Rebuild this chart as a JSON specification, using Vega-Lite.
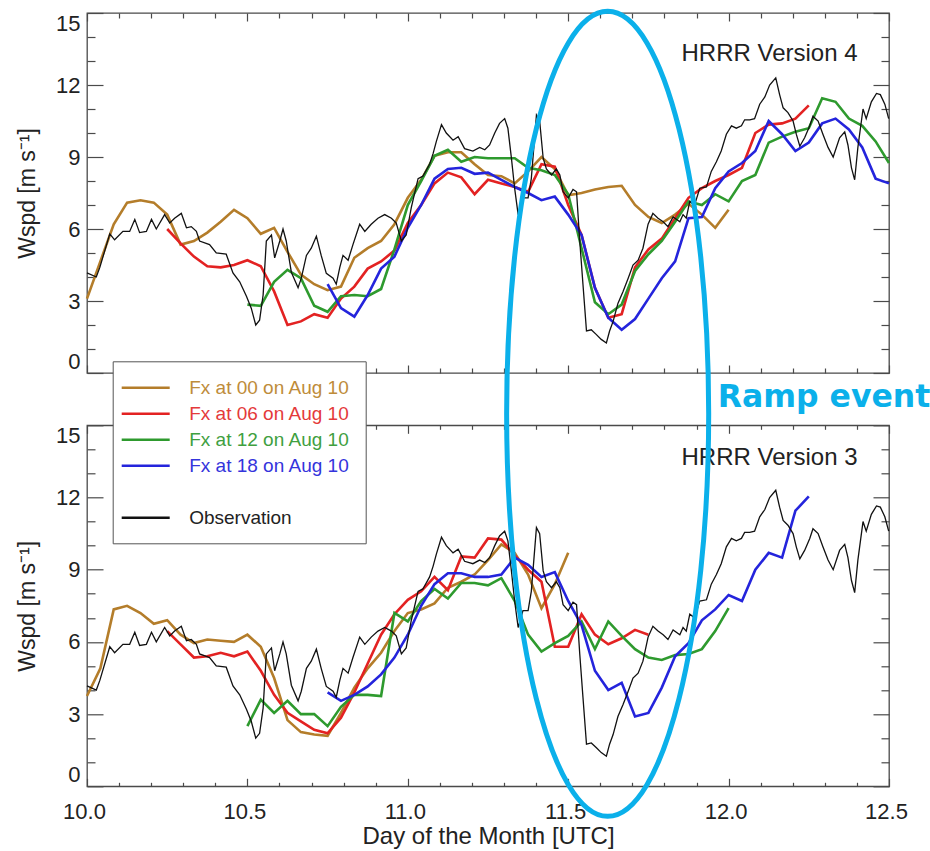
{
  "$schema": "https://vega.github.io/schema/vega-lite/v6.json",
  "background": "white",
  "padding": {"left": 15, "top": 0, "right": 0, "bottom": 0},
  "spacing": 52.3,
  "bounds": "flush",
  "config": {
    "font": "Liberation Sans",
    "view": {"stroke": "#4a4a4a", "strokeWidth": 1.3},
    "axis": {"grid": false, "domain": false, "labelFont": "Liberation Sans", "labelFontSize": 22, "labelColor": "#222222", "titleFont": "Liberation Sans", "titleFontSize": 23, "titleFontWeight": "normal", "titleColor": "#222222", "tickColor": "#4a4a4a", "tickWidth": 1.2, "labelOverlap": false, "labelBound": false}
  },
  "datasets": {
    "obs": [
      {"x":10.000,"y":4.17},{"x":10.029,"y":4.0},{"x":10.040,"y":4.4},{"x":10.071,"y":5.8},{"x":10.086,"y":5.55},{"x":10.112,"y":5.9},{"x":10.133,"y":5.9},{"x":10.149,"y":6.4},{"x":10.164,"y":5.85},{"x":10.185,"y":5.9},{"x":10.201,"y":6.4},{"x":10.216,"y":6.0},{"x":10.242,"y":6.6},{"x":10.258,"y":6.25},{"x":10.273,"y":6.45},{"x":10.294,"y":6.65},{"x":10.310,"y":6.05},{"x":10.325,"y":6.1},{"x":10.341,"y":5.9},{"x":10.351,"y":5.5},{"x":10.382,"y":5.35},{"x":10.403,"y":5.0},{"x":10.434,"y":4.95},{"x":10.455,"y":4.17},{"x":10.476,"y":3.8},{"x":10.497,"y":3.2},{"x":10.512,"y":2.7},{"x":10.526,"y":2.0},{"x":10.538,"y":2.2},{"x":10.549,"y":3.25},{"x":10.559,"y":5.5},{"x":10.575,"y":5.75},{"x":10.585,"y":4.8},{"x":10.601,"y":5.5},{"x":10.611,"y":6.0},{"x":10.621,"y":5.5},{"x":10.637,"y":4.2},{"x":10.658,"y":3.55},{"x":10.668,"y":3.95},{"x":10.684,"y":4.9},{"x":10.699,"y":5.2},{"x":10.715,"y":5.7},{"x":10.730,"y":4.9},{"x":10.746,"y":4.15},{"x":10.767,"y":3.95},{"x":10.777,"y":3.7},{"x":10.788,"y":4.4},{"x":10.798,"y":4.9},{"x":10.814,"y":4.7},{"x":10.829,"y":5.35},{"x":10.850,"y":6.2},{"x":10.866,"y":5.9},{"x":10.886,"y":6.2},{"x":10.907,"y":6.45},{"x":10.928,"y":6.6},{"x":10.949,"y":6.45},{"x":10.964,"y":6.25},{"x":10.980,"y":5.5},{"x":10.995,"y":5.75},{"x":11.011,"y":6.9},{"x":11.032,"y":8.1},{"x":11.047,"y":8.2},{"x":11.068,"y":8.7},{"x":11.079,"y":9.15},{"x":11.089,"y":9.65},{"x":11.105,"y":10.35},{"x":11.120,"y":10.0},{"x":11.141,"y":9.7},{"x":11.157,"y":9.85},{"x":11.177,"y":9.35},{"x":11.203,"y":9.25},{"x":11.224,"y":9.4},{"x":11.240,"y":9.3},{"x":11.255,"y":9.5},{"x":11.271,"y":10.0},{"x":11.286,"y":10.4},{"x":11.302,"y":10.6},{"x":11.312,"y":10.2},{"x":11.323,"y":8.95},{"x":11.333,"y":7.7},{"x":11.344,"y":6.6},{"x":11.359,"y":7.3},{"x":11.375,"y":7.3},{"x":11.385,"y":8.1},{"x":11.401,"y":10.75},{"x":11.411,"y":10.5},{"x":11.422,"y":8.95},{"x":11.432,"y":8.5},{"x":11.448,"y":8.25},{"x":11.463,"y":8.5},{"x":11.474,"y":8.25},{"x":11.484,"y":7.55},{"x":11.500,"y":7.3},{"x":11.515,"y":7.65},{"x":11.526,"y":7.55},{"x":11.536,"y":5.5},{"x":11.546,"y":3.7},{"x":11.557,"y":1.75},{"x":11.572,"y":1.8},{"x":11.588,"y":1.6},{"x":11.603,"y":1.4},{"x":11.619,"y":1.25},{"x":11.629,"y":1.75},{"x":11.640,"y":2.15},{"x":11.655,"y":2.9},{"x":11.671,"y":3.4},{"x":11.687,"y":3.95},{"x":11.702,"y":4.5},{"x":11.718,"y":4.7},{"x":11.733,"y":5.2},{"x":11.749,"y":6.2},{"x":11.764,"y":6.65},{"x":11.780,"y":6.45},{"x":11.796,"y":6.3},{"x":11.811,"y":6.1},{"x":11.827,"y":6.5},{"x":11.848,"y":6.3},{"x":11.858,"y":6.6},{"x":11.868,"y":6.45},{"x":11.879,"y":7.15},{"x":11.894,"y":7.0},{"x":11.910,"y":7.7},{"x":11.931,"y":7.75},{"x":11.946,"y":8.4},{"x":11.962,"y":8.8},{"x":11.977,"y":9.25},{"x":11.993,"y":9.95},{"x":12.009,"y":10.3},{"x":12.024,"y":10.2},{"x":12.040,"y":10.3},{"x":12.050,"y":10.55},{"x":12.066,"y":10.55},{"x":12.081,"y":10.6},{"x":12.097,"y":11.2},{"x":12.113,"y":11.5},{"x":12.128,"y":12.0},{"x":12.147,"y":12.3},{"x":12.159,"y":11.6},{"x":12.170,"y":11.05},{"x":12.185,"y":10.85},{"x":12.201,"y":10.5},{"x":12.211,"y":9.95},{"x":12.222,"y":9.45},{"x":12.237,"y":9.8},{"x":12.253,"y":10.3},{"x":12.263,"y":10.7},{"x":12.279,"y":10.5},{"x":12.294,"y":9.95},{"x":12.310,"y":9.4},{"x":12.326,"y":9.0},{"x":12.346,"y":9.8},{"x":12.362,"y":10.05},{"x":12.372,"y":9.5},{"x":12.383,"y":8.55},{"x":12.393,"y":8.05},{"x":12.403,"y":9.4},{"x":12.419,"y":11.0},{"x":12.429,"y":10.6},{"x":12.445,"y":11.3},{"x":12.461,"y":11.65},{"x":12.473,"y":11.6},{"x":12.487,"y":11.2},{"x":12.499,"y":10.6}
    ],
    "v4": [
      {"s":"Fx at 00 on Aug 10","x":10,"y":3.1},{"s":"Fx at 00 on Aug 10","x":10.0417,"y":4.65},{"s":"Fx at 00 on Aug 10","x":10.0833,"y":6.2},{"s":"Fx at 00 on Aug 10","x":10.125,"y":7.1},{"s":"Fx at 00 on Aug 10","x":10.1667,"y":7.2},{"s":"Fx at 00 on Aug 10","x":10.2083,"y":7.1},{"s":"Fx at 00 on Aug 10","x":10.25,"y":6.6},{"s":"Fx at 00 on Aug 10","x":10.2917,"y":5.35},{"s":"Fx at 00 on Aug 10","x":10.3333,"y":5.5},{"s":"Fx at 00 on Aug 10","x":10.375,"y":5.85},{"s":"Fx at 00 on Aug 10","x":10.4167,"y":6.3},{"s":"Fx at 00 on Aug 10","x":10.4583,"y":6.8},{"s":"Fx at 00 on Aug 10","x":10.5,"y":6.45},{"s":"Fx at 00 on Aug 10","x":10.5417,"y":5.8},{"s":"Fx at 00 on Aug 10","x":10.5833,"y":6.05},{"s":"Fx at 00 on Aug 10","x":10.625,"y":5.05},{"s":"Fx at 00 on Aug 10","x":10.6667,"y":4.1},{"s":"Fx at 00 on Aug 10","x":10.7083,"y":3.7},{"s":"Fx at 00 on Aug 10","x":10.75,"y":3.45},{"s":"Fx at 00 on Aug 10","x":10.7917,"y":3.6},{"s":"Fx at 00 on Aug 10","x":10.8333,"y":4.8},{"s":"Fx at 00 on Aug 10","x":10.875,"y":5.2},{"s":"Fx at 00 on Aug 10","x":10.9167,"y":5.5},{"s":"Fx at 00 on Aug 10","x":10.9583,"y":6.2},{"s":"Fx at 00 on Aug 10","x":11,"y":7.3},{"s":"Fx at 00 on Aug 10","x":11.0417,"y":8.05},{"s":"Fx at 00 on Aug 10","x":11.0833,"y":9.05},{"s":"Fx at 00 on Aug 10","x":11.125,"y":9.2},{"s":"Fx at 00 on Aug 10","x":11.1667,"y":9.2},{"s":"Fx at 00 on Aug 10","x":11.2083,"y":8.7},{"s":"Fx at 00 on Aug 10","x":11.25,"y":8.25},{"s":"Fx at 00 on Aug 10","x":11.2917,"y":8.2},{"s":"Fx at 00 on Aug 10","x":11.3333,"y":7.9},{"s":"Fx at 00 on Aug 10","x":11.375,"y":8.4},{"s":"Fx at 00 on Aug 10","x":11.4167,"y":9.0},{"s":"Fx at 00 on Aug 10","x":11.4583,"y":8.5},{"s":"Fx at 00 on Aug 10","x":11.5,"y":7.4},{"s":"Fx at 00 on Aug 10","x":11.5417,"y":7.5},{"s":"Fx at 00 on Aug 10","x":11.5833,"y":7.65},{"s":"Fx at 00 on Aug 10","x":11.625,"y":7.75},{"s":"Fx at 00 on Aug 10","x":11.6667,"y":7.8},{"s":"Fx at 00 on Aug 10","x":11.7083,"y":7.0},{"s":"Fx at 00 on Aug 10","x":11.75,"y":6.5},{"s":"Fx at 00 on Aug 10","x":11.7917,"y":6.25},{"s":"Fx at 00 on Aug 10","x":11.8333,"y":6.6},{"s":"Fx at 00 on Aug 10","x":11.875,"y":7.05},{"s":"Fx at 00 on Aug 10","x":11.9167,"y":6.6},{"s":"Fx at 00 on Aug 10","x":11.9583,"y":6.05},{"s":"Fx at 00 on Aug 10","x":12,"y":6.8},
      {"s":"Fx at 06 on Aug 10","x":10.25,"y":6.0},{"s":"Fx at 06 on Aug 10","x":10.2917,"y":5.4},{"s":"Fx at 06 on Aug 10","x":10.3333,"y":4.85},{"s":"Fx at 06 on Aug 10","x":10.375,"y":4.45},{"s":"Fx at 06 on Aug 10","x":10.4167,"y":4.4},{"s":"Fx at 06 on Aug 10","x":10.4583,"y":4.5},{"s":"Fx at 06 on Aug 10","x":10.5,"y":4.7},{"s":"Fx at 06 on Aug 10","x":10.5417,"y":4.45},{"s":"Fx at 06 on Aug 10","x":10.5833,"y":3.4},{"s":"Fx at 06 on Aug 10","x":10.625,"y":2.0},{"s":"Fx at 06 on Aug 10","x":10.6667,"y":2.15},{"s":"Fx at 06 on Aug 10","x":10.7083,"y":2.45},{"s":"Fx at 06 on Aug 10","x":10.75,"y":2.3},{"s":"Fx at 06 on Aug 10","x":10.7917,"y":3.1},{"s":"Fx at 06 on Aug 10","x":10.8333,"y":3.6},{"s":"Fx at 06 on Aug 10","x":10.875,"y":4.35},{"s":"Fx at 06 on Aug 10","x":10.9167,"y":4.65},{"s":"Fx at 06 on Aug 10","x":10.9583,"y":5.1},{"s":"Fx at 06 on Aug 10","x":11,"y":6.25},{"s":"Fx at 06 on Aug 10","x":11.0417,"y":7.0},{"s":"Fx at 06 on Aug 10","x":11.0833,"y":7.9},{"s":"Fx at 06 on Aug 10","x":11.125,"y":8.35},{"s":"Fx at 06 on Aug 10","x":11.1667,"y":8.15},{"s":"Fx at 06 on Aug 10","x":11.2083,"y":7.45},{"s":"Fx at 06 on Aug 10","x":11.25,"y":8.05},{"s":"Fx at 06 on Aug 10","x":11.2917,"y":7.9},{"s":"Fx at 06 on Aug 10","x":11.3333,"y":7.75},{"s":"Fx at 06 on Aug 10","x":11.375,"y":7.55},{"s":"Fx at 06 on Aug 10","x":11.4167,"y":8.7},{"s":"Fx at 06 on Aug 10","x":11.4583,"y":8.6},{"s":"Fx at 06 on Aug 10","x":11.5,"y":7.0},{"s":"Fx at 06 on Aug 10","x":11.5417,"y":5.75},{"s":"Fx at 06 on Aug 10","x":11.5833,"y":3.55},{"s":"Fx at 06 on Aug 10","x":11.625,"y":2.3},{"s":"Fx at 06 on Aug 10","x":11.6667,"y":2.45},{"s":"Fx at 06 on Aug 10","x":11.7083,"y":4.4},{"s":"Fx at 06 on Aug 10","x":11.75,"y":5.15},{"s":"Fx at 06 on Aug 10","x":11.7917,"y":5.6},{"s":"Fx at 06 on Aug 10","x":11.8333,"y":6.45},{"s":"Fx at 06 on Aug 10","x":11.875,"y":7.3},{"s":"Fx at 06 on Aug 10","x":11.9167,"y":7.7},{"s":"Fx at 06 on Aug 10","x":11.9583,"y":8.0},{"s":"Fx at 06 on Aug 10","x":12,"y":8.25},{"s":"Fx at 06 on Aug 10","x":12.0417,"y":8.55},{"s":"Fx at 06 on Aug 10","x":12.0833,"y":10.0},{"s":"Fx at 06 on Aug 10","x":12.125,"y":10.35},{"s":"Fx at 06 on Aug 10","x":12.1667,"y":10.4},{"s":"Fx at 06 on Aug 10","x":12.2083,"y":10.6},{"s":"Fx at 06 on Aug 10","x":12.25,"y":11.15},
      {"s":"Fx at 12 on Aug 10","x":10.5,"y":2.85},{"s":"Fx at 12 on Aug 10","x":10.5417,"y":2.8},{"s":"Fx at 12 on Aug 10","x":10.5833,"y":3.8},{"s":"Fx at 12 on Aug 10","x":10.625,"y":4.3},{"s":"Fx at 12 on Aug 10","x":10.6667,"y":3.95},{"s":"Fx at 12 on Aug 10","x":10.7083,"y":2.8},{"s":"Fx at 12 on Aug 10","x":10.75,"y":2.55},{"s":"Fx at 12 on Aug 10","x":10.7917,"y":3.2},{"s":"Fx at 12 on Aug 10","x":10.8333,"y":3.25},{"s":"Fx at 12 on Aug 10","x":10.875,"y":3.2},{"s":"Fx at 12 on Aug 10","x":10.9167,"y":3.5},{"s":"Fx at 12 on Aug 10","x":10.9583,"y":5.15},{"s":"Fx at 12 on Aug 10","x":11,"y":7.0},{"s":"Fx at 12 on Aug 10","x":11.0417,"y":8.0},{"s":"Fx at 12 on Aug 10","x":11.0833,"y":9.05},{"s":"Fx at 12 on Aug 10","x":11.125,"y":9.3},{"s":"Fx at 12 on Aug 10","x":11.1667,"y":8.8},{"s":"Fx at 12 on Aug 10","x":11.2083,"y":9.0},{"s":"Fx at 12 on Aug 10","x":11.25,"y":8.95},{"s":"Fx at 12 on Aug 10","x":11.2917,"y":8.95},{"s":"Fx at 12 on Aug 10","x":11.3333,"y":8.95},{"s":"Fx at 12 on Aug 10","x":11.375,"y":8.55},{"s":"Fx at 12 on Aug 10","x":11.4167,"y":8.45},{"s":"Fx at 12 on Aug 10","x":11.4583,"y":8.25},{"s":"Fx at 12 on Aug 10","x":11.5,"y":7.45},{"s":"Fx at 12 on Aug 10","x":11.5417,"y":5.2},{"s":"Fx at 12 on Aug 10","x":11.5833,"y":2.95},{"s":"Fx at 12 on Aug 10","x":11.625,"y":2.45},{"s":"Fx at 12 on Aug 10","x":11.6667,"y":2.85},{"s":"Fx at 12 on Aug 10","x":11.7083,"y":4.25},{"s":"Fx at 12 on Aug 10","x":11.75,"y":4.95},{"s":"Fx at 12 on Aug 10","x":11.7917,"y":5.5},{"s":"Fx at 12 on Aug 10","x":11.8333,"y":6.3},{"s":"Fx at 12 on Aug 10","x":11.875,"y":7.15},{"s":"Fx at 12 on Aug 10","x":11.9167,"y":7.0},{"s":"Fx at 12 on Aug 10","x":11.9583,"y":7.45},{"s":"Fx at 12 on Aug 10","x":12,"y":7.15},{"s":"Fx at 12 on Aug 10","x":12.0417,"y":8.0},{"s":"Fx at 12 on Aug 10","x":12.0833,"y":8.25},{"s":"Fx at 12 on Aug 10","x":12.125,"y":9.6},{"s":"Fx at 12 on Aug 10","x":12.1667,"y":9.85},{"s":"Fx at 12 on Aug 10","x":12.2083,"y":10.05},{"s":"Fx at 12 on Aug 10","x":12.25,"y":10.2},{"s":"Fx at 12 on Aug 10","x":12.2917,"y":11.45},{"s":"Fx at 12 on Aug 10","x":12.3333,"y":11.3},{"s":"Fx at 12 on Aug 10","x":12.375,"y":10.6},{"s":"Fx at 12 on Aug 10","x":12.4167,"y":10.3},{"s":"Fx at 12 on Aug 10","x":12.4583,"y":9.65},{"s":"Fx at 12 on Aug 10","x":12.5,"y":8.75},
      {"s":"Fx at 18 on Aug 10","x":10.75,"y":3.7},{"s":"Fx at 18 on Aug 10","x":10.7917,"y":2.7},{"s":"Fx at 18 on Aug 10","x":10.8333,"y":2.35},{"s":"Fx at 18 on Aug 10","x":10.875,"y":3.25},{"s":"Fx at 18 on Aug 10","x":10.9167,"y":4.35},{"s":"Fx at 18 on Aug 10","x":10.9583,"y":4.85},{"s":"Fx at 18 on Aug 10","x":11,"y":6.05},{"s":"Fx at 18 on Aug 10","x":11.0417,"y":7.0},{"s":"Fx at 18 on Aug 10","x":11.0833,"y":8.1},{"s":"Fx at 18 on Aug 10","x":11.125,"y":8.5},{"s":"Fx at 18 on Aug 10","x":11.1667,"y":8.55},{"s":"Fx at 18 on Aug 10","x":11.2083,"y":8.3},{"s":"Fx at 18 on Aug 10","x":11.25,"y":8.35},{"s":"Fx at 18 on Aug 10","x":11.2917,"y":8.05},{"s":"Fx at 18 on Aug 10","x":11.3333,"y":7.75},{"s":"Fx at 18 on Aug 10","x":11.375,"y":7.5},{"s":"Fx at 18 on Aug 10","x":11.4167,"y":7.2},{"s":"Fx at 18 on Aug 10","x":11.4583,"y":7.35},{"s":"Fx at 18 on Aug 10","x":11.5,"y":6.6},{"s":"Fx at 18 on Aug 10","x":11.5417,"y":5.75},{"s":"Fx at 18 on Aug 10","x":11.5833,"y":3.55},{"s":"Fx at 18 on Aug 10","x":11.625,"y":2.3},{"s":"Fx at 18 on Aug 10","x":11.6667,"y":1.8},{"s":"Fx at 18 on Aug 10","x":11.7083,"y":2.25},{"s":"Fx at 18 on Aug 10","x":11.75,"y":3.1},{"s":"Fx at 18 on Aug 10","x":11.7917,"y":3.95},{"s":"Fx at 18 on Aug 10","x":11.8333,"y":4.65},{"s":"Fx at 18 on Aug 10","x":11.875,"y":6.45},{"s":"Fx at 18 on Aug 10","x":11.9167,"y":6.5},{"s":"Fx at 18 on Aug 10","x":11.9583,"y":7.7},{"s":"Fx at 18 on Aug 10","x":12,"y":8.4},{"s":"Fx at 18 on Aug 10","x":12.0417,"y":8.75},{"s":"Fx at 18 on Aug 10","x":12.0833,"y":9.25},{"s":"Fx at 18 on Aug 10","x":12.125,"y":10.5},{"s":"Fx at 18 on Aug 10","x":12.1667,"y":9.95},{"s":"Fx at 18 on Aug 10","x":12.2083,"y":9.25},{"s":"Fx at 18 on Aug 10","x":12.25,"y":9.6},{"s":"Fx at 18 on Aug 10","x":12.2917,"y":10.4},{"s":"Fx at 18 on Aug 10","x":12.3333,"y":10.6},{"s":"Fx at 18 on Aug 10","x":12.375,"y":10.15},{"s":"Fx at 18 on Aug 10","x":12.4167,"y":9.4},{"s":"Fx at 18 on Aug 10","x":12.4583,"y":8.1},{"s":"Fx at 18 on Aug 10","x":12.5,"y":7.9}
    ],
    "v3": [
      {"s":"Fx at 00 on Aug 10","x":10,"y":3.75},{"s":"Fx at 00 on Aug 10","x":10.0417,"y":4.9},{"s":"Fx at 00 on Aug 10","x":10.0833,"y":7.35},{"s":"Fx at 00 on Aug 10","x":10.125,"y":7.5},{"s":"Fx at 00 on Aug 10","x":10.1667,"y":7.2},{"s":"Fx at 00 on Aug 10","x":10.2083,"y":6.75},{"s":"Fx at 00 on Aug 10","x":10.25,"y":6.9},{"s":"Fx at 00 on Aug 10","x":10.2917,"y":6.3},{"s":"Fx at 00 on Aug 10","x":10.3333,"y":5.95},{"s":"Fx at 00 on Aug 10","x":10.375,"y":6.1},{"s":"Fx at 00 on Aug 10","x":10.4167,"y":6.05},{"s":"Fx at 00 on Aug 10","x":10.4583,"y":6.0},{"s":"Fx at 00 on Aug 10","x":10.5,"y":6.3},{"s":"Fx at 00 on Aug 10","x":10.5417,"y":5.8},{"s":"Fx at 00 on Aug 10","x":10.5833,"y":4.5},{"s":"Fx at 00 on Aug 10","x":10.625,"y":2.75},{"s":"Fx at 00 on Aug 10","x":10.6667,"y":2.25},{"s":"Fx at 00 on Aug 10","x":10.7083,"y":2.15},{"s":"Fx at 00 on Aug 10","x":10.75,"y":2.1},{"s":"Fx at 00 on Aug 10","x":10.7917,"y":3.05},{"s":"Fx at 00 on Aug 10","x":10.8333,"y":4.1},{"s":"Fx at 00 on Aug 10","x":10.875,"y":4.9},{"s":"Fx at 00 on Aug 10","x":10.9167,"y":5.55},{"s":"Fx at 00 on Aug 10","x":10.9583,"y":6.45},{"s":"Fx at 00 on Aug 10","x":11,"y":7.2},{"s":"Fx at 00 on Aug 10","x":11.0417,"y":7.35},{"s":"Fx at 00 on Aug 10","x":11.0833,"y":7.6},{"s":"Fx at 00 on Aug 10","x":11.125,"y":8.25},{"s":"Fx at 00 on Aug 10","x":11.1667,"y":8.5},{"s":"Fx at 00 on Aug 10","x":11.2083,"y":8.8},{"s":"Fx at 00 on Aug 10","x":11.25,"y":9.4},{"s":"Fx at 00 on Aug 10","x":11.2917,"y":10.05},{"s":"Fx at 00 on Aug 10","x":11.3333,"y":9.7},{"s":"Fx at 00 on Aug 10","x":11.375,"y":8.8},{"s":"Fx at 00 on Aug 10","x":11.4167,"y":7.4},{"s":"Fx at 00 on Aug 10","x":11.4583,"y":8.4},{"s":"Fx at 00 on Aug 10","x":11.5,"y":9.7},
      {"s":"Fx at 06 on Aug 10","x":10.25,"y":6.45},{"s":"Fx at 06 on Aug 10","x":10.2917,"y":5.9},{"s":"Fx at 06 on Aug 10","x":10.3333,"y":5.35},{"s":"Fx at 06 on Aug 10","x":10.375,"y":5.4},{"s":"Fx at 06 on Aug 10","x":10.4167,"y":5.55},{"s":"Fx at 06 on Aug 10","x":10.4583,"y":5.4},{"s":"Fx at 06 on Aug 10","x":10.5,"y":5.6},{"s":"Fx at 06 on Aug 10","x":10.5417,"y":4.8},{"s":"Fx at 06 on Aug 10","x":10.5833,"y":3.8},{"s":"Fx at 06 on Aug 10","x":10.625,"y":3.05},{"s":"Fx at 06 on Aug 10","x":10.6667,"y":2.7},{"s":"Fx at 06 on Aug 10","x":10.7083,"y":2.35},{"s":"Fx at 06 on Aug 10","x":10.75,"y":2.2},{"s":"Fx at 06 on Aug 10","x":10.7917,"y":2.85},{"s":"Fx at 06 on Aug 10","x":10.8333,"y":3.9},{"s":"Fx at 06 on Aug 10","x":10.875,"y":5.1},{"s":"Fx at 06 on Aug 10","x":10.9167,"y":6.3},{"s":"Fx at 06 on Aug 10","x":10.9583,"y":7.15},{"s":"Fx at 06 on Aug 10","x":11,"y":7.75},{"s":"Fx at 06 on Aug 10","x":11.0417,"y":8.1},{"s":"Fx at 06 on Aug 10","x":11.0833,"y":8.7},{"s":"Fx at 06 on Aug 10","x":11.125,"y":8.15},{"s":"Fx at 06 on Aug 10","x":11.1667,"y":9.55},{"s":"Fx at 06 on Aug 10","x":11.2083,"y":9.5},{"s":"Fx at 06 on Aug 10","x":11.25,"y":10.3},{"s":"Fx at 06 on Aug 10","x":11.2917,"y":10.25},{"s":"Fx at 06 on Aug 10","x":11.3333,"y":9.6},{"s":"Fx at 06 on Aug 10","x":11.375,"y":9.0},{"s":"Fx at 06 on Aug 10","x":11.4167,"y":8.5},{"s":"Fx at 06 on Aug 10","x":11.4583,"y":5.8},{"s":"Fx at 06 on Aug 10","x":11.5,"y":5.8},{"s":"Fx at 06 on Aug 10","x":11.5417,"y":7.15},{"s":"Fx at 06 on Aug 10","x":11.5833,"y":6.3},{"s":"Fx at 06 on Aug 10","x":11.625,"y":5.9},{"s":"Fx at 06 on Aug 10","x":11.6667,"y":6.15},{"s":"Fx at 06 on Aug 10","x":11.7083,"y":6.5},{"s":"Fx at 06 on Aug 10","x":11.75,"y":6.3},
      {"s":"Fx at 12 on Aug 10","x":10.5,"y":2.5},{"s":"Fx at 12 on Aug 10","x":10.5417,"y":3.6},{"s":"Fx at 12 on Aug 10","x":10.5833,"y":3.05},{"s":"Fx at 12 on Aug 10","x":10.625,"y":3.55},{"s":"Fx at 12 on Aug 10","x":10.6667,"y":3.0},{"s":"Fx at 12 on Aug 10","x":10.7083,"y":3.0},{"s":"Fx at 12 on Aug 10","x":10.75,"y":2.5},{"s":"Fx at 12 on Aug 10","x":10.7917,"y":3.3},{"s":"Fx at 12 on Aug 10","x":10.8333,"y":3.8},{"s":"Fx at 12 on Aug 10","x":10.875,"y":3.8},{"s":"Fx at 12 on Aug 10","x":10.9167,"y":3.75},{"s":"Fx at 12 on Aug 10","x":10.9583,"y":7.2},{"s":"Fx at 12 on Aug 10","x":11,"y":6.85},{"s":"Fx at 12 on Aug 10","x":11.0417,"y":7.7},{"s":"Fx at 12 on Aug 10","x":11.0833,"y":8.2},{"s":"Fx at 12 on Aug 10","x":11.125,"y":7.8},{"s":"Fx at 12 on Aug 10","x":11.1667,"y":8.45},{"s":"Fx at 12 on Aug 10","x":11.2083,"y":8.45},{"s":"Fx at 12 on Aug 10","x":11.25,"y":8.35},{"s":"Fx at 12 on Aug 10","x":11.2917,"y":8.65},{"s":"Fx at 12 on Aug 10","x":11.3333,"y":7.7},{"s":"Fx at 12 on Aug 10","x":11.375,"y":6.3},{"s":"Fx at 12 on Aug 10","x":11.4167,"y":5.6},{"s":"Fx at 12 on Aug 10","x":11.4583,"y":5.95},{"s":"Fx at 12 on Aug 10","x":11.5,"y":6.25},{"s":"Fx at 12 on Aug 10","x":11.5417,"y":6.85},{"s":"Fx at 12 on Aug 10","x":11.5833,"y":5.7},{"s":"Fx at 12 on Aug 10","x":11.625,"y":6.85},{"s":"Fx at 12 on Aug 10","x":11.6667,"y":6.25},{"s":"Fx at 12 on Aug 10","x":11.7083,"y":5.7},{"s":"Fx at 12 on Aug 10","x":11.75,"y":5.35},{"s":"Fx at 12 on Aug 10","x":11.7917,"y":5.25},{"s":"Fx at 12 on Aug 10","x":11.8333,"y":5.45},{"s":"Fx at 12 on Aug 10","x":11.875,"y":5.5},{"s":"Fx at 12 on Aug 10","x":11.9167,"y":5.7},{"s":"Fx at 12 on Aug 10","x":11.9583,"y":6.45},{"s":"Fx at 12 on Aug 10","x":12,"y":7.4},
      {"s":"Fx at 18 on Aug 10","x":10.75,"y":3.9},{"s":"Fx at 18 on Aug 10","x":10.7917,"y":3.55},{"s":"Fx at 18 on Aug 10","x":10.8333,"y":3.8},{"s":"Fx at 18 on Aug 10","x":10.875,"y":4.15},{"s":"Fx at 18 on Aug 10","x":10.9167,"y":4.65},{"s":"Fx at 18 on Aug 10","x":10.9583,"y":5.35},{"s":"Fx at 18 on Aug 10","x":11,"y":6.3},{"s":"Fx at 18 on Aug 10","x":11.0417,"y":7.5},{"s":"Fx at 18 on Aug 10","x":11.0833,"y":8.4},{"s":"Fx at 18 on Aug 10","x":11.125,"y":8.85},{"s":"Fx at 18 on Aug 10","x":11.1667,"y":8.85},{"s":"Fx at 18 on Aug 10","x":11.2083,"y":8.7},{"s":"Fx at 18 on Aug 10","x":11.25,"y":8.7},{"s":"Fx at 18 on Aug 10","x":11.2917,"y":8.8},{"s":"Fx at 18 on Aug 10","x":11.3333,"y":9.5},{"s":"Fx at 18 on Aug 10","x":11.375,"y":9.2},{"s":"Fx at 18 on Aug 10","x":11.4167,"y":8.7},{"s":"Fx at 18 on Aug 10","x":11.4583,"y":8.9},{"s":"Fx at 18 on Aug 10","x":11.5,"y":7.7},{"s":"Fx at 18 on Aug 10","x":11.5417,"y":6.7},{"s":"Fx at 18 on Aug 10","x":11.5833,"y":4.8},{"s":"Fx at 18 on Aug 10","x":11.625,"y":4.0},{"s":"Fx at 18 on Aug 10","x":11.6667,"y":4.3},{"s":"Fx at 18 on Aug 10","x":11.7083,"y":2.9},{"s":"Fx at 18 on Aug 10","x":11.75,"y":3.05},{"s":"Fx at 18 on Aug 10","x":11.7917,"y":4.1},{"s":"Fx at 18 on Aug 10","x":11.8333,"y":5.4},{"s":"Fx at 18 on Aug 10","x":11.875,"y":5.95},{"s":"Fx at 18 on Aug 10","x":11.9167,"y":6.9},{"s":"Fx at 18 on Aug 10","x":11.9583,"y":7.35},{"s":"Fx at 18 on Aug 10","x":12,"y":7.95},{"s":"Fx at 18 on Aug 10","x":12.0417,"y":7.7},{"s":"Fx at 18 on Aug 10","x":12.0833,"y":9.0},{"s":"Fx at 18 on Aug 10","x":12.125,"y":9.7},{"s":"Fx at 18 on Aug 10","x":12.1667,"y":9.5},{"s":"Fx at 18 on Aug 10","x":12.2083,"y":11.45},{"s":"Fx at 18 on Aug 10","x":12.25,"y":12.05}
    ],
    "ramp": [{"x": 11.623, "y": 15.478, "tx": 11.966, "ty": 15.745, "label": "Ramp event"}],
    "lab4": [{"x": 12.402, "y": 13.0, "label": "HRRR Version 4"}],
    "lab3": [{"x": 12.402, "y": 13.36, "label": "HRRR Version 3"}]
  },
  "vconcat": [
    {
      "width": 802,
      "height": 360,
      "layer": [
        {
          "data": {"name": "v4"},
          "mark": {"type": "line", "strokeWidth": 2.6},
          "encoding": {
            "x": {"field": "x", "type": "quantitative", "scale": {"domain": [10, 12.5], "nice": false, "zero": false},
                  "axis": {"orient": "top", "values": [10,10.1,10.2,10.3,10.4,10.5,10.6,10.7,10.8,10.9,11,11.1,11.2,11.3,11.4,11.5,11.6,11.7,11.8,11.9,12,12.1,12.2,12.3,12.4,12.5], "labels": false, "title": null,
                           "tickSize": {"condition": {"test": "abs(datum.value*2-round(datum.value*2))<0.001", "value": -8}, "value": -5}}},
            "y": {"field": "y", "type": "quantitative", "scale": {"domain": [0, 15], "nice": false, "zero": false},
                  "axis": {"orient": "right", "values": [0,1,2,3,4,5,6,7,8,9,10,11,12,13,14,15], "labels": false, "title": null,
                           "tickSize": {"condition": {"test": "datum.value % 3 === 0", "value": -16}, "value": -8}}},
            "color": {"field": "s", "type": "nominal",
                      "scale": {"domain": ["Fx at 00 on Aug 10","Fx at 06 on Aug 10","Fx at 12 on Aug 10","Fx at 18 on Aug 10"," ","Observation"], "range": ["#B47D2A","#E32222","#2E9A2E","#2424DC","rgba(0,0,0,0)","#111111"]},
                      "legend": {"title": null, "orient": "none", "legendX": 25.7, "legendY": 348.3, "padding": 15, "symbolType": "M-2.4,0H2.4", "symbolSize": 400, "symbolStrokeWidth": 2.5, "symbolOffset": 6.5, "labelOffset": 32, "labelFontSize": 19, "labelFont": "Liberation Sans", "labelLimit": 300, "rowPadding": 4, "fillColor": "white", "strokeColor": "#555555",
                                 "encoding": {"labels": {"fill": {"condition": [{"test": "datum.label === 'Fx at 00 on Aug 10'", "value": "#BE8C3A"}, {"test": "datum.label === 'Fx at 06 on Aug 10'", "value": "#E43A3A"}, {"test": "datum.label === 'Fx at 12 on Aug 10'", "value": "#3FA03F"}, {"test": "datum.label === 'Fx at 18 on Aug 10'", "value": "#3434DC"}], "value": "#222222"}}}}}
          }
        },
        {
          "data": {"name": "obs"},
          "mark": {"type": "line", "strokeWidth": 1.3},
          "encoding": {
            "x": {"field": "x", "type": "quantitative", "scale": {"domain": [10, 12.5], "nice": false, "zero": false},
                  "axis": {"orient": "bottom", "values": [10,10.1,10.2,10.3,10.4,10.5,10.6,10.7,10.8,10.9,11,11.1,11.2,11.3,11.4,11.5,11.6,11.7,11.8,11.9,12,12.1,12.2,12.3,12.4,12.5], "labels": false, "title": null,
                           "tickSize": {"condition": {"test": "abs(datum.value*2-round(datum.value*2))<0.001", "value": -8}, "value": -5}}},
            "y": {"field": "y", "type": "quantitative", "scale": {"domain": [0, 15], "nice": false, "zero": false},
                  "axis": {"orient": "left", "values": [0,1,2,3,4,5,6,7,8,9,10,11,12,13,14,15], "labelExpr": "datum.value % 3 === 0 ? datum.label : ''", "labelFlush": true, "labelPadding": 23, "title": "Wspd [m s⁻¹]", "titlePadding": 16,
                           "tickSize": {"condition": {"test": "datum.value % 3 === 0", "value": -16}, "value": -8}}},
            "color": {"datum": "Observation", "type": "nominal",
                      "scale": {"domain": ["Fx at 00 on Aug 10","Fx at 06 on Aug 10","Fx at 12 on Aug 10","Fx at 18 on Aug 10"," ","Observation"], "range": ["#B47D2A","#E32222","#2E9A2E","#2424DC","rgba(0,0,0,0)","#111111"]},
                      "legend": {"title": null, "orient": "none", "legendX": 25.7, "legendY": 348.3, "padding": 15, "symbolType": "M-2.4,0H2.4", "symbolSize": 400, "symbolStrokeWidth": 2.5, "symbolOffset": 6.5, "labelOffset": 32, "labelFontSize": 19, "labelFont": "Liberation Sans", "labelLimit": 300, "rowPadding": 4, "fillColor": "white", "strokeColor": "#555555",
                                 "encoding": {"labels": {"fill": {"condition": [{"test": "datum.label === 'Fx at 00 on Aug 10'", "value": "#BE8C3A"}, {"test": "datum.label === 'Fx at 06 on Aug 10'", "value": "#E43A3A"}, {"test": "datum.label === 'Fx at 12 on Aug 10'", "value": "#3FA03F"}, {"test": "datum.label === 'Fx at 18 on Aug 10'", "value": "#3434DC"}], "value": "#222222"}}}}}
          }
        },
        {
          "data": {"name": "lab4"},
          "mark": {"type": "text", "align": "right", "baseline": "alphabetic", "font": "Liberation Sans", "fontSize": 24, "color": "#222222"},
          "encoding": {
            "x": {"field": "x", "type": "quantitative", "scale": {"domain": [10, 12.5], "nice": false, "zero": false}, "axis": null},
            "y": {"field": "y", "type": "quantitative", "scale": {"domain": [0, 15], "nice": false, "zero": false}, "axis": null},
            "text": {"field": "label"}
          }
        }
      ]
    },
    {
      "width": 802,
      "height": 361,
      "layer": [
        {
          "data": {"name": "v3"},
          "mark": {"type": "line", "strokeWidth": 2.6},
          "encoding": {
            "x": {"field": "x", "type": "quantitative", "scale": {"domain": [10, 12.5], "nice": false, "zero": false},
                  "axis": {"orient": "top", "values": [10,10.1,10.2,10.3,10.4,10.5,10.6,10.7,10.8,10.9,11,11.1,11.2,11.3,11.4,11.5,11.6,11.7,11.8,11.9,12,12.1,12.2,12.3,12.4,12.5], "labels": false, "title": null,
                           "tickSize": {"condition": {"test": "abs(datum.value*2-round(datum.value*2))<0.001", "value": -8}, "value": -4}}},
            "y": {"field": "y", "type": "quantitative", "scale": {"domain": [0, 15], "nice": false, "zero": false},
                  "axis": {"orient": "right", "values": [0,1,2,3,4,5,6,7,8,9,10,11,12,13,14,15], "labels": false, "title": null,
                           "tickSize": {"condition": {"test": "datum.value % 3 === 0", "value": -16}, "value": -8}}},
            "color": {"field": "s", "type": "nominal",
                      "scale": {"domain": ["Fx at 00 on Aug 10","Fx at 06 on Aug 10","Fx at 12 on Aug 10","Fx at 18 on Aug 10"," ","Observation"], "range": ["#B47D2A","#E32222","#2E9A2E","#2424DC","rgba(0,0,0,0)","#111111"]},
                      "legend": {"title": null, "orient": "none", "legendX": 25.7, "legendY": 348.3, "padding": 15, "symbolType": "M-2.4,0H2.4", "symbolSize": 400, "symbolStrokeWidth": 2.5, "symbolOffset": 6.5, "labelOffset": 32, "labelFontSize": 19, "labelFont": "Liberation Sans", "labelLimit": 300, "rowPadding": 4, "fillColor": "white", "strokeColor": "#555555",
                                 "encoding": {"labels": {"fill": {"condition": [{"test": "datum.label === 'Fx at 00 on Aug 10'", "value": "#BE8C3A"}, {"test": "datum.label === 'Fx at 06 on Aug 10'", "value": "#E43A3A"}, {"test": "datum.label === 'Fx at 12 on Aug 10'", "value": "#3FA03F"}, {"test": "datum.label === 'Fx at 18 on Aug 10'", "value": "#3434DC"}], "value": "#222222"}}}}}
          }
        },
        {
          "data": {"name": "obs"},
          "mark": {"type": "line", "strokeWidth": 1.3},
          "encoding": {
            "x": {"field": "x", "type": "quantitative", "scale": {"domain": [10, 12.5], "nice": false, "zero": false},
                  "axis": {"orient": "bottom", "values": [10,10.1,10.2,10.3,10.4,10.5,10.6,10.7,10.8,10.9,11,11.1,11.2,11.3,11.4,11.5,11.6,11.7,11.8,11.9,12,12.1,12.2,12.3,12.4,12.5],
                           "labelExpr": "abs(datum.value*2-round(datum.value*2))<0.001 ? format(datum.value, '.1f') : ''", "labelFlush": false, "labelPadding": 23, "labelOffset": -3, "title": "Day of the Month [UTC]", "titleFontSize": 24, "titlePadding": -2,
                           "tickSize": {"condition": {"test": "abs(datum.value*2-round(datum.value*2))<0.001", "value": -8}, "value": -4}}},
            "y": {"field": "y", "type": "quantitative", "scale": {"domain": [0, 15], "nice": false, "zero": false},
                  "axis": {"orient": "left", "values": [0,1,2,3,4,5,6,7,8,9,10,11,12,13,14,15], "labelExpr": "datum.value % 3 === 0 ? datum.label : ''", "labelFlush": true, "labelPadding": 23, "title": "Wspd [m s⁻¹]", "titlePadding": 16,
                           "tickSize": {"condition": {"test": "datum.value % 3 === 0", "value": -16}, "value": -8}}},
            "color": {"datum": "Observation", "type": "nominal",
                      "scale": {"domain": ["Fx at 00 on Aug 10","Fx at 06 on Aug 10","Fx at 12 on Aug 10","Fx at 18 on Aug 10"," ","Observation"], "range": ["#B47D2A","#E32222","#2E9A2E","#2424DC","rgba(0,0,0,0)","#111111"]},
                      "legend": {"title": null, "orient": "none", "legendX": 25.7, "legendY": 348.3, "padding": 15, "symbolType": "M-2.4,0H2.4", "symbolSize": 400, "symbolStrokeWidth": 2.5, "symbolOffset": 6.5, "labelOffset": 32, "labelFontSize": 19, "labelFont": "Liberation Sans", "labelLimit": 300, "rowPadding": 4, "fillColor": "white", "strokeColor": "#555555",
                                 "encoding": {"labels": {"fill": {"condition": [{"test": "datum.label === 'Fx at 00 on Aug 10'", "value": "#BE8C3A"}, {"test": "datum.label === 'Fx at 06 on Aug 10'", "value": "#E43A3A"}, {"test": "datum.label === 'Fx at 12 on Aug 10'", "value": "#3FA03F"}, {"test": "datum.label === 'Fx at 18 on Aug 10'", "value": "#3434DC"}], "value": "#222222"}}}}}
          }
        },
        {
          "data": {"name": "lab3"},
          "mark": {"type": "text", "align": "right", "baseline": "alphabetic", "font": "Liberation Sans", "fontSize": 24, "color": "#222222"},
          "encoding": {
            "x": {"field": "x", "type": "quantitative", "scale": {"domain": [10, 12.5], "nice": false, "zero": false}, "axis": null},
            "y": {"field": "y", "type": "quantitative", "scale": {"domain": [0, 15], "nice": false, "zero": false}, "axis": null},
            "text": {"field": "label"}
          }
        },
        {
          "data": {"name": "ramp"},
          "mark": {"type": "point", "shape": "M0,-1A0.251,1,0,1,1,0,1A0.251,1,0,1,1,0,-1Z", "size": 648025, "filled": false, "stroke": "#0BB0EA", "strokeWidth": 5, "opacity": 1, "clip": false},
          "encoding": {
            "x": {"field": "x", "type": "quantitative", "scale": {"domain": [10, 12.5], "nice": false, "zero": false}, "axis": null},
            "y": {"field": "y", "type": "quantitative", "scale": {"domain": [0, 15], "nice": false, "zero": false}, "axis": null}
          }
        },
        {
          "data": {"name": "ramp"},
          "mark": {"type": "text", "align": "left", "baseline": "alphabetic", "font": "DejaVu Sans", "fontWeight": "bold", "fontSize": 31.5, "color": "#0BB0EA", "clip": false},
          "encoding": {
            "x": {"field": "tx", "type": "quantitative", "scale": {"domain": [10, 12.5], "nice": false, "zero": false}, "axis": null},
            "y": {"field": "ty", "type": "quantitative", "scale": {"domain": [0, 15], "nice": false, "zero": false}, "axis": null},
            "text": {"field": "label"}
          }
        }
      ]
    }
  ]
}
